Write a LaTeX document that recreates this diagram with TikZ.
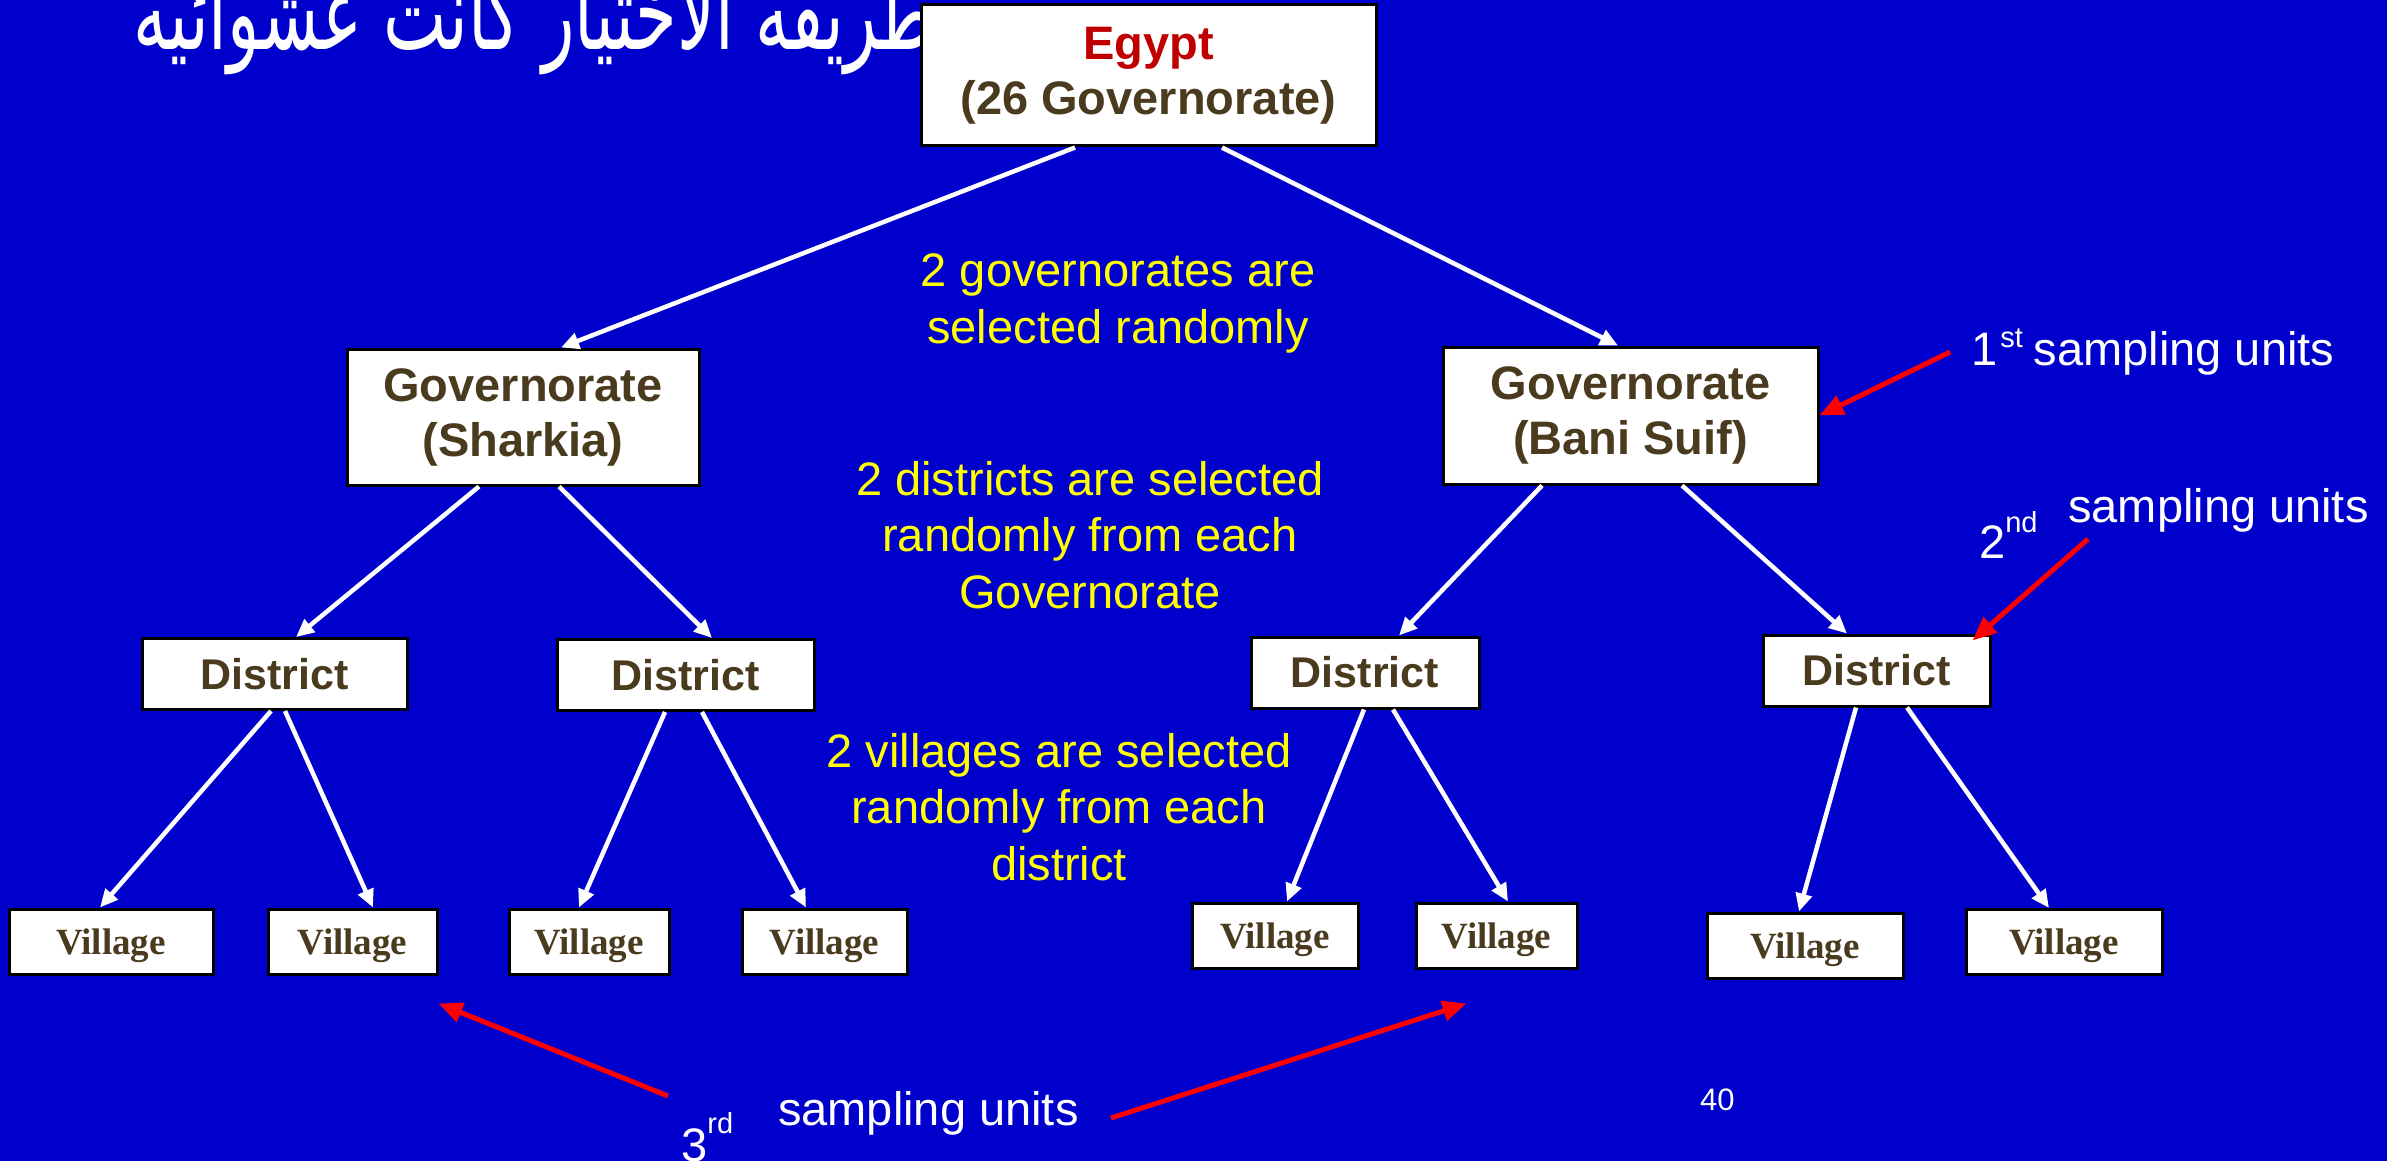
\documentclass[tikz,border=0pt]{standalone}
\usepackage{fontspec}
\setmainfont{Liberation Sans}
\newfontfamily\timesfont{Liberation Serif}
\newfontfamily\arabicfont[Script=Arabic]{DejaVu Sans}
\TeXXeTstate=1
\usetikzlibrary{arrows.meta,calc}
\definecolor{bg}{RGB}{0,0,204}
\definecolor{boxtext}{RGB}{74,58,30}
\definecolor{egred}{RGB}{192,0,0}
\definecolor{ylw}{RGB}{255,255,0}
\begin{document}
\begin{tikzpicture}[x=1pt,y=-1pt,
  box/.style={draw=black,line width=3pt,fill=white,inner sep=0pt,text=boxtext,align=center,
    font=\fontsize{47}{55}\selectfont\bfseries},
  dbox/.style={box,font=\fontsize{43}{50}\selectfont\bfseries,minimum height=71pt},
  vbox/.style={box,font=\timesfont\bfseries\fontsize{37}{40}\selectfont,minimum height=65pt,text depth=0pt},
  ytext/.style={text=ylw,align=center,inner sep=0pt,font=\fontsize{47}{56.5}\selectfont},
  wtext/.style={text=white,inner sep=0pt,font=\fontsize{47}{56}\selectfont},
  wline/.style={draw=white,line width=4.5pt,-{Triangle[length=18pt,width=16pt]}},
  rline/.style={draw=red,line width=5pt,-{Triangle[length=24pt,width=20pt]}}
]
\useasboundingbox (0,0) rectangle (2387,1161);
\fill[bg] (0,0) rectangle (2387,1161);

% Arabic title (partly hidden behind the top box)
\node[anchor=base east,text=white,inner sep=0pt,font=\arabicfont\fontsize{80}{88}\selectfont] (ar) at (935,50)
  {\scalebox{0.84}[1.3]{\beginR طريقه الاختيار كانت عشوائيه\endR}};

% boxes
\node[box,minimum width=455pt,minimum height=141pt] (eg) at (1148.5,75.5)
  {\textcolor{egred}{Egypt}\\(26 Governorate)};
\node[box,minimum width=352pt,minimum height=136pt] (gs) at (523,417) {Governorate\\(Sharkia)};
\node[box,minimum width=375pt,minimum height=137pt] (gb) at (1630.5,415.5) {Governorate\\(Bani Suif)};

\node[dbox,minimum width=265pt] (d1) at (274.5,674) {District};
\node[dbox,minimum width=257pt] (d2) at (685.5,675) {District};
\node[dbox,minimum width=228pt] (d3) at (1365,672.5) {District};
\node[dbox,minimum width=227pt] (d4) at (1876.5,670.5) {District};

\node[vbox,minimum width=204pt] (v1) at (111,941.5) {Village};
\node[vbox,minimum width=169pt] (v2) at (352.5,941.5) {Village};
\node[vbox,minimum width=160pt] (v3) at (589,941.5) {Village};
\node[vbox,minimum width=165pt] (v4) at (824.5,941.5) {Village};
\node[vbox,minimum width=166pt] (v5) at (1275,935.5) {Village};
\node[vbox,minimum width=161pt] (v6) at (1496.5,935.5) {Village};
\node[vbox,minimum width=196pt] (v7) at (1805,945.5) {Village};
\node[vbox,minimum width=196pt] (v8) at (2064,942) {Village};

% white tree connectors
\draw[wline] ([xshift=-73.5pt]eg.south) -- ([xshift=38pt]gs.north);
\draw[wline] ([xshift=73.5pt]eg.south) -- ([xshift=-12.5pt]gb.north);
\draw[wline] ([xshift=-44pt]gs.south) -- ([xshift=21.5pt]d1.north);
\draw[wline] ([xshift=36pt]gs.south) -- ([xshift=26.5pt]d2.north);
\draw[wline] ([xshift=-88.5pt]gb.south) -- ([xshift=34pt]d3.north);
\draw[wline] ([xshift=51.5pt]gb.south) -- ([xshift=-29.5pt]d4.north);
\draw[wline] ([xshift=-3.5pt]d1.south) -- ([xshift=-11pt]v1.north);
\draw[wline] ([xshift=10.5pt]d1.south) -- ([xshift=20.5pt]v2.north);
\draw[wline] ([xshift=-20.5pt]d2.south) -- ([xshift=-10pt]v3.north);
\draw[wline] ([xshift=16.5pt]d2.south) -- ([xshift=-18.5pt]v4.north);
\draw[wline] ([xshift=-1pt]d3.south) -- ([xshift=12pt]v5.north);
\draw[wline] ([xshift=28pt]d3.south) -- ([xshift=11.5pt]v6.north);
\draw[wline] ([xshift=-20.5pt]d4.south) -- ([xshift=-6pt]v7.north);
\draw[wline] ([xshift=30.5pt]d4.south) -- ([xshift=-15pt]v8.north);

% yellow explanations (anchor base = baseline of the last line)
\node[ytext,anchor=base] (t1) at (1118,343) {2 governorates are\\selected randomly};
\node[ytext,anchor=base] (t2) at (1090,608) {2 districts are selected\\randomly from each\\Governorate};
\node[ytext,anchor=base] (t3) at (1059,880) {2 villages are selected\\randomly from each\\district};

% sampling-unit labels
\node[wtext,anchor=base west] (s1) at (1971,365)
  {1\hspace{3pt}\raisebox{18pt}{\fontsize{29}{30}\selectfont st}\hspace{11pt}sampling units};
\node[wtext,anchor=base west] (s2n) at (1979,558) {2\raisebox{26pt}{\fontsize{29}{30}\selectfont nd}};
\node[wtext,anchor=base west] (s2) at (2068,522) {sampling units};
\node[wtext,anchor=base west] (s3n) at (681,1161) {3\raisebox{28pt}{\fontsize{29}{30}\selectfont rd}};
\node[wtext,anchor=base west] (s3) at (778,1125) {sampling units};
\node[text=white,inner sep=0pt,font=\fontsize{31}{34}\selectfont,anchor=base west] (pg) at (1700,1110) {40};

% red pointer arrows
\coordinate (r1) at (1950,352);
\coordinate (r2) at (2088,539);
\coordinate (r3a) at (668,1096);
\coordinate (r3b) at (1111,1118);
\draw[rline] (r1) -- (gb.east);
\draw[rline] (r2) -- ([xshift=-19pt,yshift=-7pt]d4.north east);
\draw[rline] (r3a) -- ([yshift=-28pt]v2.south east);
\draw[rline] (r3b) -- ([xshift=-30pt,yshift=-34pt]v6.south);
\end{tikzpicture}
\end{document}
